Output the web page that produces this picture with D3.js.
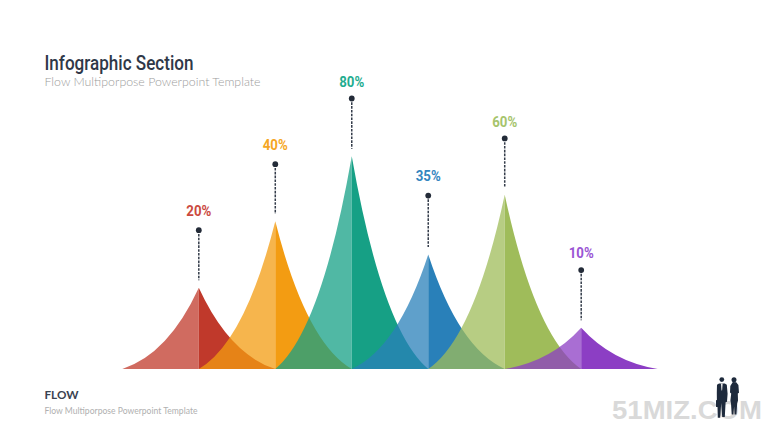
<!DOCTYPE html>
<html><head><meta charset="utf-8">
<script src="https://cdn.jsdelivr.net/npm/d3@7"></script>
<style>html,body{margin:0;padding:0;background:#fff}svg{display:block}</style>
</head><body><svg id="c" width="780" height="439"></svg>
<script>
const categories = ["A","B","C","D","E","F"];
const labels = ["20%","40%","80%","35%","60%","10%"];
const peaks = [30.5,55.5,80,43,65.5,15.5];
const pins = [52.2,77,101.7,65.2,86.7,37.2];
const labelBase = [57.5,82.3,106,70.5,90.8,41.6];
const colors = ["#C0392B","#F39C12","#16A085","#2980B9","#9FBC5A","#8C3EC4"];
const labelColors = ["#CB4A3F","#F5A623","#1FAD90","#3385C0","#A6C46C","#9A55D4"];

const svg = d3.select("#c");
const x = d3.scalePoint().domain(categories).range([198.8,581.2]);
const y = d3.scaleLinear().domain([0,100]).range([369,103]);
const hw = x.step();

function half(cat,val,dir){
  const px=x(cat), py=y(val), b=y(0), p=d3.path();
  p.moveTo(px,b);
  p.lineTo(px+dir*hw,b);
  p.quadraticCurveTo(px+dir*hw*0.4,b-(b-py)*0.18,px,py);
  p.closePath();
  return p.toString();
}
const g = svg.append("g");
categories.forEach((c,i)=>{
  g.append("path").attr("d",half(c,peaks[i],1)).attr("fill",colors[i]);
  g.append("path").attr("d",half(c,peaks[i],-1)).attr("fill",colors[i]).attr("fill-opacity",0.75);
});
categories.forEach((c,i)=>{
  svg.append("line").attr("x1",x(c)).attr("x2",x(c)).attr("y1",y(pins[i])).attr("y2",y(peaks[i])-7.5)
    .attr("stroke","#343C4A").attr("stroke-width",1.5).attr("stroke-dasharray","2.6 1.2");
  svg.append("circle").attr("cx",x(c)).attr("cy",y(pins[i])).attr("r",2.9).attr("fill","#232B38");
  svg.append("text").attr("x",x(c)).attr("y",y(labelBase[i])).attr("text-anchor","middle")
    .attr("font-family","Roboto").attr("font-weight",700).attr("font-size",14.5)
    .attr("textLength",25).attr("lengthAdjust","spacingAndGlyphs")
    .attr("fill",labelColors[i]).text(labels[i]);
});
function txt(s,xx,yy,font,weight,size,fill,len){
  svg.append("text").attr("x",xx).attr("y",yy).attr("font-family",font).attr("font-weight",weight)
    .attr("font-size",size).attr("fill",fill).attr("textLength",len).attr("lengthAdjust","spacingAndGlyphs").text(s);
}
txt("Infographic Section",44.5,70,"Roboto",500,20.5,"#2F3848",149);
txt("Flow Multiporpose Powerpoint Template",44.5,86,"Lato",300,12.5,"#9C9C9C",216);
txt("FLOW",44.5,399,"Lato",700,11.5,"#3A4250",34);
txt("Flow Multiporpose Powerpoint Template",44.5,414,"Lato",400,8.5,"#B0B0B0",153);
txt("51MIZ.COM",612,419,"Liberation Sans",700,25,"#D9D9D9",150);
// silhouettes
const s = svg.append("g").attr("fill","#1E2A3C");
s.append("circle").attr("cx",721.8).attr("cy",379.6).attr("r",2.4);
s.append("path").attr("d","M719 383.5l5.8 0 2 1.2.8 9-.6 8-1.4.6-.8 14.7h-2.6l-1-14-1 14.7h-2.4l-.4-15-.5-2-.1-8 .2-8z");
s.append("rect").attr("x",716).attr("y",400).attr("width",4.6).attr("height",7).attr("rx",0.6);
svg.append("path").attr("d","M720.9 383.5h1.8l-.6 7h-.6z").attr("fill","#E8E8E8");
s.append("circle").attr("cx",734).attr("cy",379.8).attr("r",2.5);
s.append("path").attr("d","M732.8 382l3.4.2 2.2 2.8.6 7.8-1.2 .8.2 7-.8 3-.8 11h-1.8l-.5-8-.7 8h-1.7l-.7-11-.6-3 .8-7-1.2-1 .3-6.5z");
</script></body></html>
